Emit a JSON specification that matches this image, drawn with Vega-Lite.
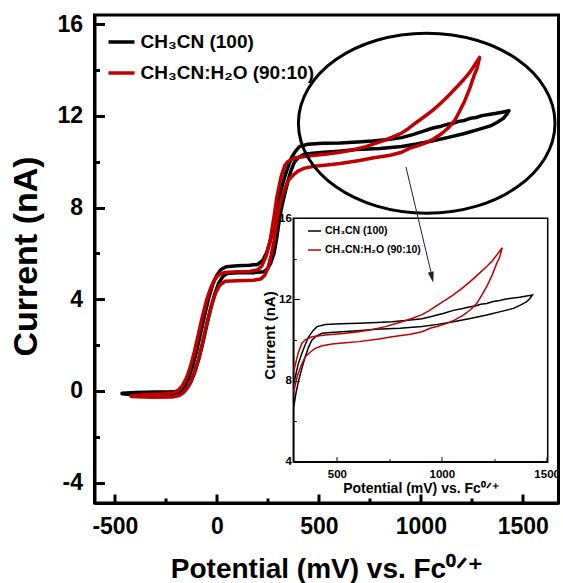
{
  "$schema": "https://vega.github.io/schema/vega-lite/v6.json",
  "autosize": {"type": "none"},
  "width": 464,
  "height": 488,
  "padding": {"left": 94.5, "top": 15, "right": 4.5, "bottom": 80},
  "background": "white",
  "data": {"name": "cv", "values": [
    {"s":"CH₃CN (100)","i":0,"v":-465,"c":-0.10},{"s":"CH₃CN (100)","i":1,"v":-400,"c":-0.07},{"s":"CH₃CN (100)","i":2,"v":-300,"c":-0.05},{"s":"CH₃CN (100)","i":3,"v":-230,"c":-0.04},{"s":"CH₃CN (100)","i":4,"v":-200,"c":-0.02},{"s":"CH₃CN (100)","i":5,"v":-180,"c":0.05},{"s":"CH₃CN (100)","i":6,"v":-160,"c":0.22},{"s":"CH₃CN (100)","i":7,"v":-140,"c":0.55},{"s":"CH₃CN (100)","i":8,"v":-120,"c":1.05},{"s":"CH₃CN (100)","i":9,"v":-100,"c":1.72},{"s":"CH₃CN (100)","i":10,"v":-80,"c":2.50},{"s":"CH₃CN (100)","i":11,"v":-60,"c":3.30},{"s":"CH₃CN (100)","i":12,"v":-40,"c":4.05},{"s":"CH₃CN (100)","i":13,"v":-20,"c":4.65},{"s":"CH₃CN (100)","i":14,"v":0,"c":5.05},{"s":"CH₃CN (100)","i":15,"v":20,"c":5.30},{"s":"CH₃CN (100)","i":16,"v":45,"c":5.42},{"s":"CH₃CN (100)","i":17,"v":100,"c":5.46},{"s":"CH₃CN (100)","i":18,"v":160,"c":5.48},{"s":"CH₃CN (100)","i":19,"v":200,"c":5.52},{"s":"CH₃CN (100)","i":20,"v":225,"c":5.70},{"s":"CH₃CN (100)","i":21,"v":245,"c":6.05},{"s":"CH₃CN (100)","i":22,"v":260,"c":6.50},{"s":"CH₃CN (100)","i":23,"v":275,"c":7.05},{"s":"CH₃CN (100)","i":24,"v":287,"c":7.55},{"s":"CH₃CN (100)","i":25,"v":294,"c":7.85},{"s":"CH₃CN (100)","i":26,"v":301,"c":8.15},{"s":"CH₃CN (100)","i":27,"v":315,"c":8.80},{"s":"CH₃CN (100)","i":28,"v":333,"c":9.35},{"s":"CH₃CN (100)","i":29,"v":350,"c":9.80},{"s":"CH₃CN (100)","i":30,"v":365,"c":10.16},{"s":"CH₃CN (100)","i":31,"v":385,"c":10.45},{"s":"CH₃CN (100)","i":32,"v":405,"c":10.66},{"s":"CH₃CN (100)","i":33,"v":445,"c":10.76},{"s":"CH₃CN (100)","i":34,"v":520,"c":10.80},{"s":"CH₃CN (100)","i":35,"v":604,"c":10.82},{"s":"CH₃CN (100)","i":36,"v":690,"c":10.86},{"s":"CH₃CN (100)","i":37,"v":763,"c":10.90},{"s":"CH₃CN (100)","i":38,"v":840,"c":10.97},{"s":"CH₃CN (100)","i":39,"v":906,"c":11.05},{"s":"CH₃CN (100)","i":40,"v":960,"c":11.18},{"s":"CH₃CN (100)","i":41,"v":1010,"c":11.32},{"s":"CH₃CN (100)","i":42,"v":1055,"c":11.46},{"s":"CH₃CN (100)","i":43,"v":1100,"c":11.55},{"s":"CH₃CN (100)","i":44,"v":1130,"c":11.63},{"s":"CH₃CN (100)","i":45,"v":1160,"c":11.68},{"s":"CH₃CN (100)","i":46,"v":1185,"c":11.76},{"s":"CH₃CN (100)","i":47,"v":1214,"c":11.80},{"s":"CH₃CN (100)","i":48,"v":1245,"c":11.90},{"s":"CH₃CN (100)","i":49,"v":1270,"c":11.93},{"s":"CH₃CN (100)","i":50,"v":1300,"c":12.01},{"s":"CH₃CN (100)","i":51,"v":1341,"c":12.07},{"s":"CH₃CN (100)","i":52,"v":1370,"c":12.11},{"s":"CH₃CN (100)","i":53,"v":1405,"c":12.17},{"s":"CH₃CN (100)","i":54,"v":1432,"c":12.22},{"s":"CH₃CN (100)","i":55,"v":1420,"c":12.05},{"s":"CH₃CN (100)","i":56,"v":1405,"c":11.89},{"s":"CH₃CN (100)","i":57,"v":1375,"c":11.72},{"s":"CH₃CN (100)","i":58,"v":1341,"c":11.56},{"s":"CH₃CN (100)","i":59,"v":1280,"c":11.40},{"s":"CH₃CN (100)","i":60,"v":1214,"c":11.23},{"s":"CH₃CN (100)","i":61,"v":1130,"c":11.05},{"s":"CH₃CN (100)","i":62,"v":1055,"c":10.90},{"s":"CH₃CN (100)","i":63,"v":980,"c":10.77},{"s":"CH₃CN (100)","i":64,"v":906,"c":10.66},{"s":"CH₃CN (100)","i":65,"v":800,"c":10.58},{"s":"CH₃CN (100)","i":66,"v":683,"c":10.53},{"s":"CH₃CN (100)","i":67,"v":600,"c":10.46},{"s":"CH₃CN (100)","i":68,"v":524,"c":10.41},{"s":"CH₃CN (100)","i":69,"v":470,"c":10.37},{"s":"CH₃CN (100)","i":70,"v":429,"c":10.33},{"s":"CH₃CN (100)","i":71,"v":400,"c":10.18},{"s":"CH₃CN (100)","i":72,"v":381,"c":10.00},{"s":"CH₃CN (100)","i":73,"v":365,"c":9.65},{"s":"CH₃CN (100)","i":74,"v":349,"c":9.18},{"s":"CH₃CN (100)","i":75,"v":333,"c":8.60},{"s":"CH₃CN (100)","i":76,"v":318,"c":8.03},{"s":"CH₃CN (100)","i":77,"v":306,"c":7.45},{"s":"CH₃CN (100)","i":78,"v":294,"c":6.70},{"s":"CH₃CN (100)","i":79,"v":280,"c":6.00},{"s":"CH₃CN (100)","i":80,"v":265,"c":5.60},{"s":"CH₃CN (100)","i":81,"v":250,"c":5.35},{"s":"CH₃CN (100)","i":82,"v":230,"c":5.20},{"s":"CH₃CN (100)","i":83,"v":180,"c":5.16},{"s":"CH₃CN (100)","i":84,"v":100,"c":5.15},{"s":"CH₃CN (100)","i":85,"v":50,"c":5.12},{"s":"CH₃CN (100)","i":86,"v":30,"c":5.00},{"s":"CH₃CN (100)","i":87,"v":10,"c":4.72},{"s":"CH₃CN (100)","i":88,"v":-10,"c":4.25},{"s":"CH₃CN (100)","i":89,"v":-30,"c":3.60},{"s":"CH₃CN (100)","i":90,"v":-50,"c":2.85},{"s":"CH₃CN (100)","i":91,"v":-70,"c":2.05},{"s":"CH₃CN (100)","i":92,"v":-90,"c":1.35},{"s":"CH₃CN (100)","i":93,"v":-110,"c":0.78},{"s":"CH₃CN (100)","i":94,"v":-130,"c":0.35},{"s":"CH₃CN (100)","i":95,"v":-150,"c":0.08},{"s":"CH₃CN (100)","i":96,"v":-170,"c":-0.08},{"s":"CH₃CN (100)","i":97,"v":-200,"c":-0.16},{"s":"CH₃CN (100)","i":98,"v":-300,"c":-0.18},{"s":"CH₃CN (100)","i":99,"v":-400,"c":-0.18},{"s":"CH₃CN (100)","i":100,"v":-465,"c":-0.12},
    {"s":"CH₃CN:H₂O (90:10)","i":0,"v":-420,"c":-0.22},{"s":"CH₃CN:H₂O (90:10)","i":1,"v":-350,"c":-0.16},{"s":"CH₃CN:H₂O (90:10)","i":2,"v":-260,"c":-0.12},{"s":"CH₃CN:H₂O (90:10)","i":3,"v":-215,"c":-0.08},{"s":"CH₃CN:H₂O (90:10)","i":4,"v":-190,"c":0.02},{"s":"CH₃CN:H₂O (90:10)","i":5,"v":-170,"c":0.22},{"s":"CH₃CN:H₂O (90:10)","i":6,"v":-150,"c":0.55},{"s":"CH₃CN:H₂O (90:10)","i":7,"v":-130,"c":1.05},{"s":"CH₃CN:H₂O (90:10)","i":8,"v":-110,"c":1.72},{"s":"CH₃CN:H₂O (90:10)","i":9,"v":-90,"c":2.50},{"s":"CH₃CN:H₂O (90:10)","i":10,"v":-70,"c":3.28},{"s":"CH₃CN:H₂O (90:10)","i":11,"v":-50,"c":3.98},{"s":"CH₃CN:H₂O (90:10)","i":12,"v":-30,"c":4.50},{"s":"CH₃CN:H₂O (90:10)","i":13,"v":-10,"c":4.88},{"s":"CH₃CN:H₂O (90:10)","i":14,"v":10,"c":5.08},{"s":"CH₃CN:H₂O (90:10)","i":15,"v":40,"c":5.17},{"s":"CH₃CN:H₂O (90:10)","i":16,"v":100,"c":5.20},{"s":"CH₃CN:H₂O (90:10)","i":17,"v":160,"c":5.21},{"s":"CH₃CN:H₂O (90:10)","i":18,"v":200,"c":5.28},{"s":"CH₃CN:H₂O (90:10)","i":19,"v":220,"c":5.45},{"s":"CH₃CN:H₂O (90:10)","i":20,"v":240,"c":5.85},{"s":"CH₃CN:H₂O (90:10)","i":21,"v":260,"c":6.50},{"s":"CH₃CN:H₂O (90:10)","i":22,"v":280,"c":7.60},{"s":"CH₃CN:H₂O (90:10)","i":23,"v":294,"c":8.45},{"s":"CH₃CN:H₂O (90:10)","i":24,"v":315,"c":9.35},{"s":"CH₃CN:H₂O (90:10)","i":25,"v":333,"c":9.84},{"s":"CH₃CN:H₂O (90:10)","i":26,"v":350,"c":10.02},{"s":"CH₃CN:H₂O (90:10)","i":27,"v":381,"c":10.16},{"s":"CH₃CN:H₂O (90:10)","i":28,"v":445,"c":10.25},{"s":"CH₃CN:H₂O (90:10)","i":29,"v":530,"c":10.32},{"s":"CH₃CN:H₂O (90:10)","i":30,"v":604,"c":10.41},{"s":"CH₃CN:H₂O (90:10)","i":31,"v":670,"c":10.52},{"s":"CH₃CN:H₂O (90:10)","i":32,"v":731,"c":10.66},{"s":"CH₃CN:H₂O (90:10)","i":33,"v":770,"c":10.78},{"s":"CH₃CN:H₂O (90:10)","i":34,"v":810,"c":10.90},{"s":"CH₃CN:H₂O (90:10)","i":35,"v":860,"c":11.07},{"s":"CH₃CN:H₂O (90:10)","i":36,"v":906,"c":11.25},{"s":"CH₃CN:H₂O (90:10)","i":37,"v":940,"c":11.45},{"s":"CH₃CN:H₂O (90:10)","i":38,"v":976,"c":11.70},{"s":"CH₃CN:H₂O (90:10)","i":39,"v":1015,"c":11.95},{"s":"CH₃CN:H₂O (90:10)","i":40,"v":1055,"c":12.22},{"s":"CH₃CN:H₂O (90:10)","i":41,"v":1095,"c":12.53},{"s":"CH₃CN:H₂O (90:10)","i":42,"v":1135,"c":12.88},{"s":"CH₃CN:H₂O (90:10)","i":43,"v":1175,"c":13.25},{"s":"CH₃CN:H₂O (90:10)","i":44,"v":1214,"c":13.62},{"s":"CH₃CN:H₂O (90:10)","i":45,"v":1240,"c":13.90},{"s":"CH₃CN:H₂O (90:10)","i":46,"v":1262,"c":14.19},{"s":"CH₃CN:H₂O (90:10)","i":47,"v":1288,"c":14.55},{"s":"CH₃CN:H₂O (90:10)","i":48,"v":1275,"c":14.05},{"s":"CH₃CN:H₂O (90:10)","i":49,"v":1262,"c":13.78},{"s":"CH₃CN:H₂O (90:10)","i":50,"v":1240,"c":13.20},{"s":"CH₃CN:H₂O (90:10)","i":51,"v":1214,"c":12.63},{"s":"CH₃CN:H₂O (90:10)","i":52,"v":1190,"c":12.20},{"s":"CH₃CN:H₂O (90:10)","i":53,"v":1167,"c":11.81},{"s":"CH₃CN:H₂O (90:10)","i":54,"v":1135,"c":11.48},{"s":"CH₃CN:H₂O (90:10)","i":55,"v":1103,"c":11.23},{"s":"CH₃CN:H₂O (90:10)","i":56,"v":1060,"c":10.98},{"s":"CH₃CN:H₂O (90:10)","i":57,"v":1024,"c":10.82},{"s":"CH₃CN:H₂O (90:10)","i":58,"v":980,"c":10.68},{"s":"CH₃CN:H₂O (90:10)","i":59,"v":944,"c":10.58},{"s":"CH₃CN:H₂O (90:10)","i":60,"v":906,"c":10.41},{"s":"CH₃CN:H₂O (90:10)","i":61,"v":850,"c":10.28},{"s":"CH₃CN:H₂O (90:10)","i":62,"v":763,"c":10.16},{"s":"CH₃CN:H₂O (90:10)","i":63,"v":700,"c":10.05},{"s":"CH₃CN:H₂O (90:10)","i":64,"v":604,"c":9.92},{"s":"CH₃CN:H₂O (90:10)","i":65,"v":540,"c":9.86},{"s":"CH₃CN:H₂O (90:10)","i":66,"v":477,"c":9.80},{"s":"CH₃CN:H₂O (90:10)","i":67,"v":430,"c":9.72},{"s":"CH₃CN:H₂O (90:10)","i":68,"v":397,"c":9.59},{"s":"CH₃CN:H₂O (90:10)","i":69,"v":375,"c":9.42},{"s":"CH₃CN:H₂O (90:10)","i":70,"v":349,"c":9.18},{"s":"CH₃CN:H₂O (90:10)","i":71,"v":330,"c":8.75},{"s":"CH₃CN:H₂O (90:10)","i":72,"v":310,"c":8.19},{"s":"CH₃CN:H₂O (90:10)","i":73,"v":294,"c":7.45},{"s":"CH₃CN:H₂O (90:10)","i":74,"v":280,"c":6.55},{"s":"CH₃CN:H₂O (90:10)","i":75,"v":265,"c":5.85},{"s":"CH₃CN:H₂O (90:10)","i":76,"v":250,"c":5.35},{"s":"CH₃CN:H₂O (90:10)","i":77,"v":235,"c":5.05},{"s":"CH₃CN:H₂O (90:10)","i":78,"v":215,"c":4.88},{"s":"CH₃CN:H₂O (90:10)","i":79,"v":180,"c":4.83},{"s":"CH₃CN:H₂O (90:10)","i":80,"v":100,"c":4.81},{"s":"CH₃CN:H₂O (90:10)","i":81,"v":40,"c":4.78},{"s":"CH₃CN:H₂O (90:10)","i":82,"v":15,"c":4.62},{"s":"CH₃CN:H₂O (90:10)","i":83,"v":-5,"c":4.30},{"s":"CH₃CN:H₂O (90:10)","i":84,"v":-25,"c":3.78},{"s":"CH₃CN:H₂O (90:10)","i":85,"v":-45,"c":3.10},{"s":"CH₃CN:H₂O (90:10)","i":86,"v":-65,"c":2.32},{"s":"CH₃CN:H₂O (90:10)","i":87,"v":-85,"c":1.55},{"s":"CH₃CN:H₂O (90:10)","i":88,"v":-105,"c":0.92},{"s":"CH₃CN:H₂O (90:10)","i":89,"v":-125,"c":0.45},{"s":"CH₃CN:H₂O (90:10)","i":90,"v":-145,"c":0.12},{"s":"CH₃CN:H₂O (90:10)","i":91,"v":-165,"c":-0.08},{"s":"CH₃CN:H₂O (90:10)","i":92,"v":-185,"c":-0.20},{"s":"CH₃CN:H₂O (90:10)","i":93,"v":-220,"c":-0.27},{"s":"CH₃CN:H₂O (90:10)","i":94,"v":-320,"c":-0.28},{"s":"CH₃CN:H₂O (90:10)","i":95,"v":-420,"c":-0.24}
  ]},
  "layer": [
    {
      "layer": [
        {
          "mark": {"type": "line", "strokeWidth": 3.5, "strokeCap": "round", "strokeJoin": "round"},
          "encoding": {
            "x": {"field": "v", "type": "quantitative", "scale": {"domain": [-600, 1675], "nice": false, "zero": false},
              "axis": {"orient": "bottom", "values": [-500,-250,0,250,500,750,1000,1250,1500],
                "labelExpr": "datum.value % 500 === 0 ? '' + datum.value : ''",
                "tickSize": {"condition": {"test": "datum.value % 500 !== 0", "value": -5}, "value": -9},
                "tickWidth": 3, "domainWidth": 3, "labelFontSize": 23, "labelFontWeight": "bold", "labelPadding": 21,
                "labelFlush": false, "labelOverlap": false,
                "title": "Potential (mV) vs. Fc⁰ᐟ⁺", "titleFontSize": 28, "titleFontWeight": "bold",
                "titleBaseline": "alphabetic", "titleY": 74, "titleX": 232}},
            "y": {"field": "c", "type": "quantitative", "scale": {"domain": [-4.89, 16.4], "nice": false, "zero": false},
              "axis": {"orient": "left", "values": [-4,-2,0,2,4,6,8,10,12,14,16],
                "labelExpr": "datum.value % 4 === 0 ? '' + datum.value : ''",
                "tickSize": {"condition": {"test": "datum.value % 4 !== 0", "value": -5}, "value": -10},
                "tickWidth": 3, "domainWidth": 3, "labelFontSize": 23, "labelFontWeight": "bold", "labelPadding": 22,
                "labelFlush": false, "labelOverlap": false,
                "title": "Current (nA)", "titleFontSize": 34, "titleFontWeight": "bold",
                "titleBaseline": "alphabetic", "titleX": -58.5, "titleY": 241}},
            "color": {"field": "s", "type": "nominal",
              "scale": {"domain": ["CH₃CN (100)", "CH₃CN:H₂O (90:10)"], "range": ["#000000", "#c00000"]},
              "legend": {"orient": "top-left", "offset": 12, "title": null, "padding": 0, "symbolType": "stroke",
                "symbolSize": 676, "symbolStrokeWidth": 3.5, "labelFontSize": 19, "labelFontWeight": "bold",
                "labelFont": "Liberation Sans", "labelColor": "black", "labelOffset": 4, "rowPadding": 6, "labelLimit": 400}},
            "order": {"field": "i", "type": "quantitative"}
          }
        },
        {
          "data": {"values": [{}]},
          "mark": {"type": "point", "shape": "M-1,0C-1,-0.3874,-0.5523,-0.7015,0,-0.7015C0.5523,-0.7015,1,-0.3874,1,0C1,0.3874,0.5523,0.7015,0,0.7015C-0.5523,0.7015,-1,0.3874,-1,0Z",
            "size": 65846, "filled": false, "stroke": "black", "strokeWidth": 3, "opacity": 1},
          "encoding": {"x": {"datum": 1028.8}, "y": {"datum": 11.68}}
        },
        {
          "data": {"values": [{}]},
          "mark": {"type": "rule", "strokeWidth": 1, "color": "#222222"},
          "encoding": {"x": {"datum": 927}, "y": {"datum": 9.77}, "x2": {"datum": 1052}, "y2": {"datum": 5.1}}
        },
        {
          "data": {"values": [{}]},
          "mark": {"type": "point", "shape": "M0,0L-0.27,-1L0.27,-1Z", "size": 484, "angle": -13.3, "filled": true, "fill": "#222222", "strokeWidth": 0, "opacity": 1},
          "encoding": {"x": {"datum": 1061}, "y": {"datum": 4.72}}
        }
      ]
    },
    {
      "transform": [{"filter": "datum.v >= 290"}],
      "layer": [
        {
          "data": {"values": [{}]},
          "mark": {"type": "rect", "fill": null, "stroke": "black", "strokeWidth": 1.5},
          "encoding": {"x": {"datum": 292}, "x2": {"datum": 1505}, "y": {"datum": 4}, "y2": {"datum": 16}}
        },
        {
          "mark": {"type": "line", "strokeWidth": 1.5},
          "encoding": {
            "x": {"field": "v", "type": "quantitative", "scale": {"domain": [292, 1505], "range": [198.8, 453.2], "nice": false, "zero": false},
              "axis": {"orient": "bottom", "offset": -41.3, "values": [500,750,1000,1250,1500],
                "labelExpr": "datum.value % 500 === 0 ? '' + datum.value : ''",
                "tickSize": {"condition": {"test": "datum.value % 500 !== 0", "value": -3}, "value": -5},
                "tickWidth": 1, "domainWidth": 1.5, "labelFontSize": 11.5, "labelFontWeight": "bold", "labelPadding": 12,
                "labelFlush": false, "labelOverlap": false,
                "title": "Potential (mV) vs. Fc⁰ᐟ⁺", "titleFontSize": 14, "titleFontWeight": "bold",
                "titleBaseline": "alphabetic", "titleY": 31}},
            "y": {"field": "c", "type": "quantitative", "scale": {"domain": [4, 16], "range": [446.7, 203.3], "nice": false, "zero": false},
              "axis": {"orient": "left", "offset": -198.8, "values": [4,6,8,10,12,14,16],
                "labelExpr": "datum.value % 4 === 0 ? '' + datum.value : ''",
                "tickSize": {"condition": {"test": "datum.value % 4 !== 0", "value": -3}, "value": -6},
                "tickWidth": 1, "domainWidth": 1.5, "labelFontSize": 11.5, "labelFontWeight": "bold", "labelPadding": 8,
                "labelFlush": false, "labelOverlap": false,
                "title": "Current (nA)", "titleFontSize": 15, "titleFontWeight": "bold",
                "titleBaseline": "alphabetic", "titleX": -19, "titleY": 320}},
            "color": {"field": "s", "type": "nominal",
              "scale": {"domain": ["CH₃CN (100)", "CH₃CN:H₂O (90:10)"], "range": ["#000000", "#c00000"]},
              "legend": {"orient": "none", "legendX": 212.5, "legendY": 208.5, "title": null, "padding": 0, "symbolType": "stroke",
                "symbolSize": 169, "symbolStrokeWidth": 1.5, "labelFontSize": 10.5, "labelFontWeight": "bold",
                "labelFont": "Liberation Sans", "labelColor": "black", "labelOffset": 3, "rowPadding": 6, "labelLimit": 300}},
            "order": {"field": "i", "type": "quantitative"}
          }
        }
      ]
    }
  ],
  "resolve": {
    "scale": {"x": "independent", "y": "independent", "color": "independent"},
    "axis": {"x": "independent", "y": "independent"},
    "legend": {"color": "independent"}
  },
  "config": {
    "view": {"stroke": "black", "strokeWidth": 3},
    "font": "Liberation Sans",
    "axis": {"grid": false, "domainColor": "black", "tickColor": "black", "labelColor": "black", "titleColor": "black",
      "labelFont": "Liberation Sans", "titleFont": "Liberation Sans"}
  }
}
